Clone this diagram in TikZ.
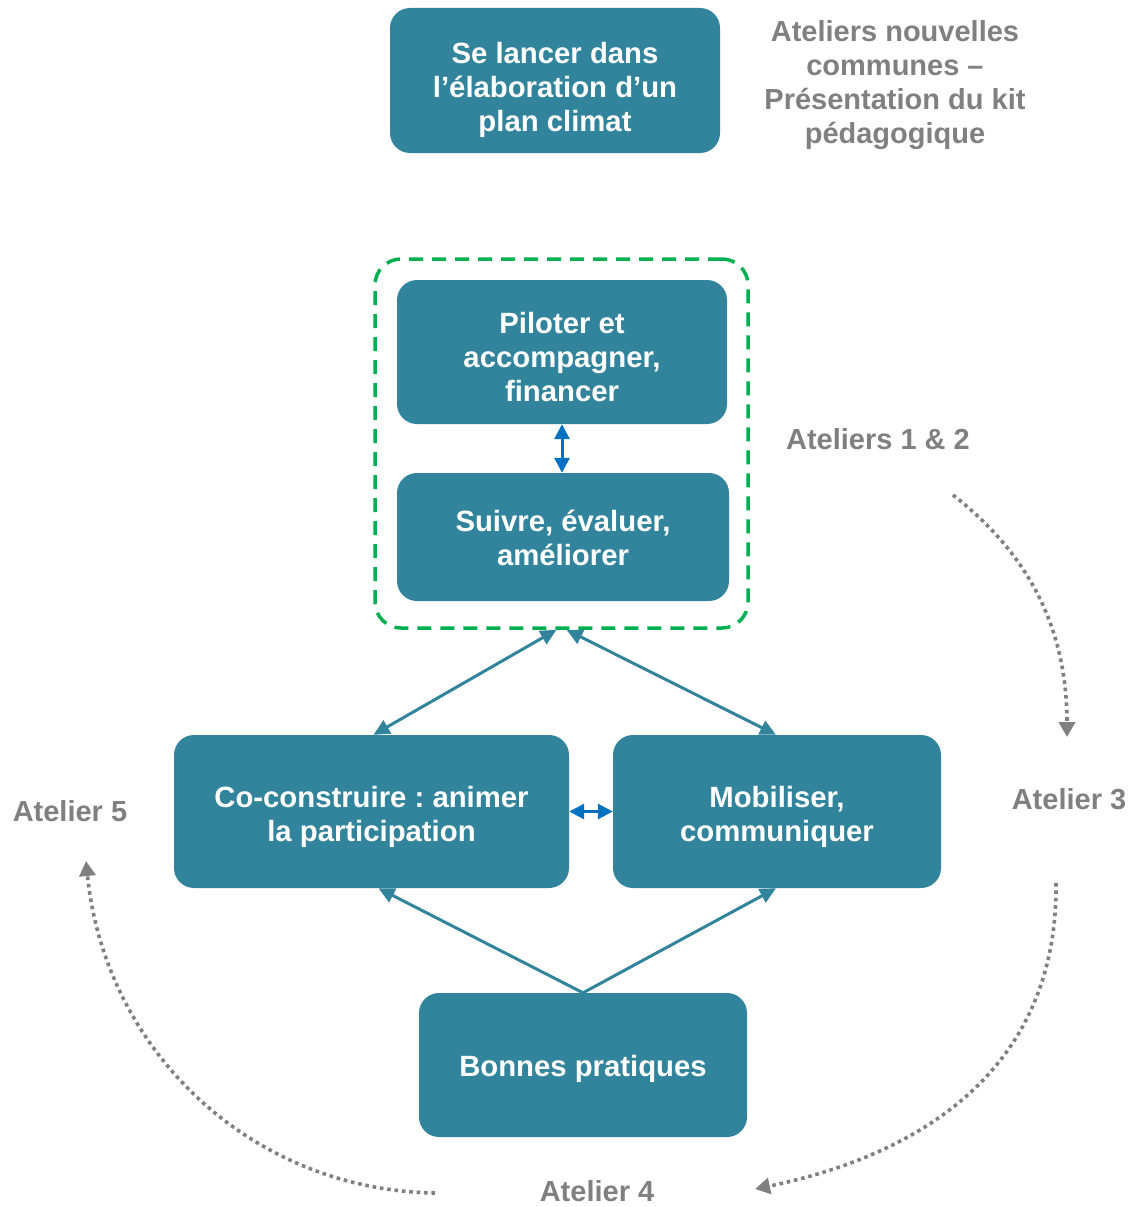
\documentclass[tikz,border=0pt]{standalone}
\usepackage{fontspec}
\setmainfont{Liberation Sans}
\usetikzlibrary{arrows.meta,calc}
\definecolor{teal1}{RGB}{49,132,155}
\definecolor{blue1}{RGB}{0,112,192}
\definecolor{green1}{RGB}{0,176,80}
\definecolor{grey1}{RGB}{128,128,128}
\tikzset{
  box/.style={fill=teal1, rounded corners=20pt, inner sep=0pt},
  btxt/.style={text=white, font=\bfseries\fontsize{29.3}{34}\selectfont, align=center, inner sep=0pt},
  lbl/.style={text=grey1, font=\bfseries\fontsize{29}{34}\selectfont, align=center, inner sep=0pt},
  bluearr/.style={blue1, line width=3pt, {Triangle[length=15pt,width=15pt]}-{Triangle[length=15pt,width=15pt]}},
  tealarr/.style={teal1, line width=3pt},
  tealtip/.style={-{Triangle[length=16pt,width=15pt]}},
  dotarr/.style={grey1, line width=3.6pt, dash pattern=on 3.6pt off 3.8pt, -{Triangle[length=15pt,width=16pt]}},
}
\begin{document}
\frenchspacing
\begin{tikzpicture}[x=1pt,y=-1pt]
\useasboundingbox (0,0) rectangle (1132,1207);
\node[box, minimum width=330pt, minimum height=145pt] (top) at (555,80.5) {};
\node[btxt] (topt) at ($(top.center)+(0,9)$) {Se lancer dans\\l’élaboration d’un\\plan climat};
\node[lbl] (kit) at (895,85) {Ateliers nouvelles\\communes –\\Présentation du kit\\pédagogique};
\node[draw=green1, line width=3.5pt, dash pattern=on 14pt off 9pt, rounded corners=26pt, minimum width=373pt, minimum height=369pt, inner sep=0pt] (grp) at (561.5,443.5) {};
\node[box, minimum width=330pt, minimum height=144pt] (pil) at (562,352) {};
\node[btxt] (pilt) at ($(pil.center)+(0,5)$) {Piloter et\\accompagner,\\financer};
\node[box, minimum width=332pt, minimum height=128pt] (sui) at (563,537) {};
\node[btxt] (suit) at ($(sui.center)+(0,1)$) {Suivre, évaluer,\\améliorer};
\node[box, minimum width=395pt, minimum height=153pt] (co) at (371.5,811.5) {};
\node[btxt] (cot) at ($(co.center)+(0,5)$) {Co-construire : animer\\la participation};
\node[box, minimum width=328pt, minimum height=153pt] (mob) at (777,811.5) {};
\node[btxt] (mobt) at ($(mob.center)+(0,5)$) {Mobiliser,\\communiquer};
\node[box, minimum width=328pt, minimum height=144pt] (bp) at (583,1065) {};
\node[btxt] (bpt) at ($(bp.center)+(0,4)$) {Bonnes pratiques};
\node[lbl] (a12) at (878,439) {Ateliers 1 \& 2};
\node[lbl] (a3) at (1069,799) {Atelier 3};
\node[lbl] (a5) at (70,811) {Atelier 5};
\node[lbl] (a4) at (597,1191) {Atelier 4};
% blue arrows
\draw[bluearr] (pil.south) -- (pil.south |- sui.north);
\draw[bluearr] (co.east) -- (mob.west);
% teal arrows
\draw[tealarr, {Triangle[length=16pt,width=15pt]}-{Triangle[length=16pt,width=15pt]}] ($(grp.south)+(-5,0)$) -- ($(co.north)+(2,0)$);
\draw[tealarr, {Triangle[length=16pt,width=15pt]}-{Triangle[length=16pt,width=15pt]}] ($(grp.south)+(5,0)$) -- ($(mob.north)+(-1,0)$);
\draw[tealarr, tealtip] (bp.north) -- ($(co.south)+(7,0)$);
\draw[tealarr, tealtip] (bp.north) -- ($(mob.south)+(-1,0)$);
% dotted cycle arrows
\coordinate (c1s) at (953,495);
\coordinate (c1e) at (1067,737);
\coordinate (c2s) at (1056,883);
\coordinate (c2e) at (755,1189);
\coordinate (c3s) at (435,1193);
\coordinate (c3e) at (86,861);
\draw[dotarr] (c1s) .. controls (1030,555) and (1067,630) .. (c1e);
\draw[dotarr] (c2s) .. controls (1058,1070) and (920,1155) .. (c2e);
\draw[dotarr] (c3s) .. controls (250,1190) and (105,1050) .. (c3e);
\end{tikzpicture}
\end{document}
